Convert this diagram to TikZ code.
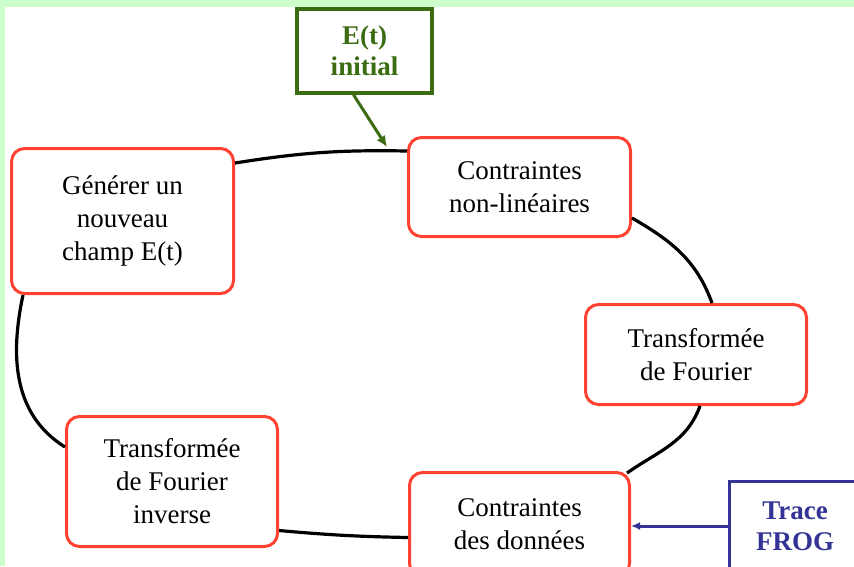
\documentclass[tikz,border=0pt]{standalone}
\usepackage{fontspec}
\setmainfont{Liberation Serif}
\usepackage{tikz}
\usetikzlibrary{arrows.meta,calc}

\definecolor{rouge}{RGB}{255,66,50}
\definecolor{vertfonce}{RGB}{60,108,18}
\definecolor{bleufrog}{RGB}{52,52,150}
\definecolor{vertclair}{RGB}{204,255,204}

\begin{document}
\begin{tikzpicture}[x=1pt, y=-1pt,
  bloc/.style={draw=rouge, line width=3pt, rounded corners=13pt, fill=white, align=center, inner sep=0pt, font=\fontsize{27}{33}\selectfont},
  entree/.style={draw, line width=3.5pt, fill=white, align=center, inner sep=0pt, font=\bfseries\fontsize{27}{31}\selectfont},
  lien/.style={line width=3.2pt, black},
  fleche/.style={-{Latex[length=11pt, width=10pt]}, line width=3pt}
]
\useasboundingbox (0,0) rectangle (854,566);
\fill[vertclair] (0,0) rectangle (854,566);
\fill[white] (5,7) rectangle (854,566);

\node[bloc, minimum width=222pt, minimum height=145pt] (gen) at (122.5,221) {G\'en\'erer un\\nouveau\\champ E(t)};
\node[bloc, minimum width=222pt, minimum height=99pt] (nonlin) at (519.5,187) {Contraintes\\non-lin\'eaires};
\node[bloc, minimum width=221pt, minimum height=100pt] (tf) at (696,354.5) {Transform\'ee\\de Fourier};
\node[bloc, minimum width=211pt, minimum height=130pt] (tfi) at (172,481.5) {Transform\'ee\\de Fourier\\inverse};
\node[bloc, minimum width=220pt, minimum height=104pt] (don) at (519.5,524.5) {Contraintes\\des donn\'ees};
\node[entree, draw=vertfonce, text=vertfonce, minimum width=135pt, minimum height=84pt] (init) at (364.5,51) {E(t)\\initial};
\node[entree, draw=bleufrog, text=bleufrog, minimum width=131pt, minimum height=89pt] (frog) at (795,526) {Trace\\FROG};

\coordinate (entree) at (387,147);

% boucle
\draw[lien] ([yshift=-16pt]gen.north east) to[bend left=5] ([yshift=-15pt]nonlin.north west);
\draw[lien] ([yshift=20pt]nonlin.south east) to[out=-30, in=110] ([xshift=16pt]tf.north);
\draw[lien] ([xshift=4pt]tf.south) to[out=-110, in=35] ([xshift=-4pt,yshift=-2pt]don.north east);
\draw[lien] ([yshift=-13pt]don.west) to[bend left=2] ([yshift=-49pt]tfi.east);
\draw[lien] ([yshift=-32pt]tfi.north west) to[out=148, in=-102] ([xshift=13pt]gen.south west);

% entrees
\draw[fleche, vertfonce] ([xshift=-11pt]init.south) -- (entree);
\draw[fleche, bleufrog, -{Latex[length=9pt, width=8pt]}] (frog.west) -- (frog.west -| don.east);
\end{tikzpicture}
\end{document}
